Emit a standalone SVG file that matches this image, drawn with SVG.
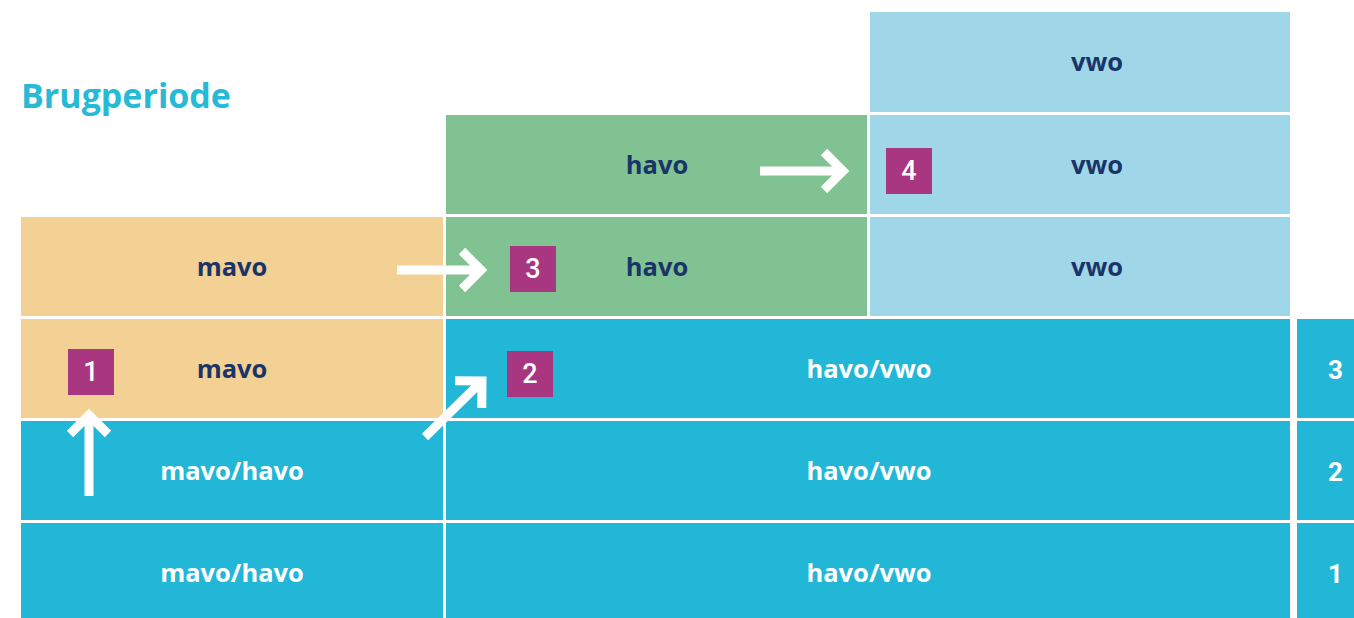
<svg xmlns="http://www.w3.org/2000/svg" width="1354" height="618" viewBox="0 0 1354 618">
<style>
.orange{fill:#F3D194}
.green{fill:#80C291}
.light{fill:#9FD7E9}
.blue{fill:#23B7D7}
.badge{fill:#A93681}
.lbl{font-family:"Open Sans","Liberation Sans",sans-serif;font-weight:700;font-size:25.5px;text-anchor:middle}
.dark{fill:#1B3468}
.white{fill:#FFFFFF}
.num{font-family:Roboto,"Liberation Sans",sans-serif;font-weight:500;font-size:27px;fill:#FFFFFF;text-anchor:middle}
.yr{font-family:Roboto,"Liberation Sans",sans-serif;font-weight:700;font-size:26px;fill:#FFFFFF;text-anchor:end}
.arrow{stroke:#FFFFFF;stroke-width:9;fill:none;stroke-linecap:butt}
</style>
<defs>
<marker id="chev" markerUnits="userSpaceOnUse" markerWidth="60" markerHeight="60" refX="0" refY="0" orient="auto" overflow="visible">
<path d="M-19,-19 L0,0 L-19,19" fill="none" stroke="#FFFFFF" stroke-width="9" stroke-linejoin="miter"/>
</marker>
</defs>
<rect width="1354" height="618" fill="#FFFFFF"/>
<text x="21" y="108" font-family="'Open Sans','Liberation Sans',sans-serif" font-weight="700" font-size="34" fill="#27BAD6">Brugperiode</text>

<g id="vwo-top"><rect class="light" x="870" y="12" width="420" height="100"/><text class="lbl dark" x="1097" y="71">vwo</text></g>
<g id="havo-r1"><rect class="green" x="446" y="115" width="421" height="99"/><text class="lbl dark" x="657" y="174">havo</text></g>
<g id="vwo-r1"><rect class="light" x="870" y="115" width="420" height="99"/><text class="lbl dark" x="1097" y="174">vwo</text></g>
<g id="mavo-r2"><rect class="orange" x="21" y="217" width="422" height="99"/><text class="lbl dark" x="232" y="276">mavo</text></g>
<g id="havo-r2"><rect class="green" x="446" y="217" width="421" height="99"/><text class="lbl dark" x="657" y="276">havo</text></g>
<g id="vwo-r2"><rect class="light" x="870" y="217" width="420" height="99"/><text class="lbl dark" x="1097" y="276">vwo</text></g>
<g id="mavo-r3"><rect class="orange" x="21" y="319" width="422" height="99"/><text class="lbl dark" x="232" y="378">mavo</text></g>
<g id="havovwo-3"><rect class="blue" x="446" y="319" width="844" height="99"/><text class="lbl white" x="869" y="378">havo/vwo</text></g>
<g id="year-3"><rect class="blue" x="1297" y="319" width="57" height="99"/><text class="yr" x="1343" y="379">3</text></g>
<g id="mavohavo-2"><rect class="blue" x="21" y="421" width="422" height="99"/><text class="lbl white" x="232" y="480">mavo/havo</text></g>
<g id="havovwo-2"><rect class="blue" x="446" y="421" width="844" height="99"/><text class="lbl white" x="869" y="480">havo/vwo</text></g>
<g id="year-2"><rect class="blue" x="1297" y="421" width="57" height="99"/><text class="yr" x="1343" y="481">2</text></g>
<g id="mavohavo-1"><rect class="blue" x="21" y="523" width="422" height="95"/><text class="lbl white" x="232" y="582">mavo/havo</text></g>
<g id="havovwo-1"><rect class="blue" x="446" y="523" width="844" height="95"/><text class="lbl white" x="869" y="582">havo/vwo</text></g>
<g id="year-1"><rect class="blue" x="1297" y="523" width="57" height="95"/><text class="yr" x="1343" y="583">1</text></g>

<g id="badge-1"><rect class="badge" x="68" y="349" width="46" height="46"/><text class="num" x="91" y="381">1</text></g>
<g id="badge-2"><rect class="badge" x="507" y="351" width="46" height="46"/><text class="num" x="530" y="383">2</text></g>
<g id="badge-3"><rect class="badge" x="510" y="246" width="46" height="46"/><text class="num" x="533" y="278">3</text></g>
<g id="badge-4"><rect class="badge" x="886" y="148" width="46" height="46"/><text class="num" x="909" y="180">4</text></g>

<g id="connectors">
<path class="arrow" d="M89,496 L89,415" marker-end="url(#chev)"/>
<path class="arrow" d="M425,437 L482,381" marker-end="url(#chev)"/>
<path class="arrow" d="M397,270 L481,270" marker-end="url(#chev)"/>
<path class="arrow" d="M760,171 L843,171" marker-end="url(#chev)"/>
</g>
</svg>
